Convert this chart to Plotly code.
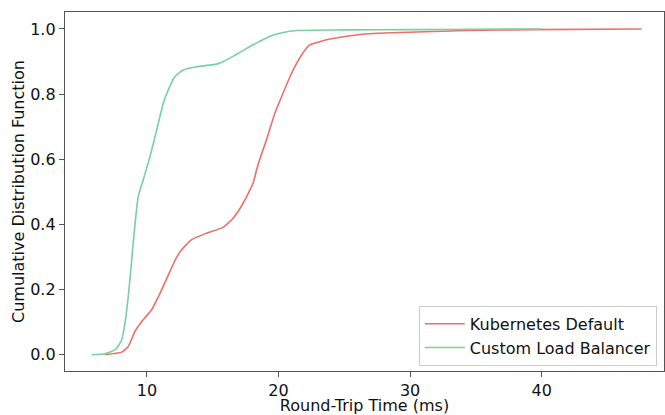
import plotly.graph_objects as go

# Kubernetes Default CDF
k8s_rtt = [6.8, 8.08, 8.58, 9.09, 9.6, 10.36, 11.0, 11.75, 12.2, 12.63, 13.39, 14.53,
           15.79, 16.2, 16.55, 17.31, 18.07, 18.33, 18.7, 19.09, 19.72, 20.23, 20.99,
           21.75, 22.38, 23.14, 23.9, 26.2, 29.2, 34.3, 39.3, 47.6]
k8s_cdf = [0.0, 0.008, 0.025, 0.072, 0.102, 0.138, 0.189, 0.256, 0.295, 0.322, 0.353, 0.373,
           0.391, 0.405, 0.419, 0.465, 0.527, 0.567, 0.615, 0.66, 0.741, 0.792, 0.864,
           0.92, 0.951, 0.961, 0.969, 0.983, 0.989, 0.995, 0.998, 1.0]

# Custom Load Balancer CDF
clb_rtt = [5.8, 6.8, 7.3, 7.7, 8.08, 8.33, 8.58, 8.84, 9.09, 9.34, 9.72, 10.23, 10.74,
           11.24, 11.62, 12.13, 12.76, 13.77, 15.29, 15.8, 16.5, 17.06, 18.0,
           18.58, 19.3, 20.1, 21.37, 25.0, 30.0, 35.0, 40.0]
clb_cdf = [0.0, 0.003, 0.01, 0.02, 0.046, 0.097, 0.179, 0.29, 0.40, 0.486, 0.537, 0.608, 0.69,
           0.772, 0.813, 0.854, 0.874, 0.884, 0.892, 0.90, 0.915, 0.928, 0.95,
           0.962, 0.977, 0.987, 0.995, 0.997, 0.998, 0.999, 1.0]

x_ticks = [10, 20, 30, 40]
y_ticks = [0.0, 0.2, 0.4, 0.6, 0.8, 1.0]

FONT = "DejaVu Sans"
FS = 16

fig = go.Figure()
fig.add_trace(go.Scatter(x=k8s_rtt, y=k8s_cdf, mode="lines", name="Kubernetes Default",
                         line=dict(color="#ef6e69", width=1.6, shape="spline", smoothing=0.5)))
fig.add_trace(go.Scatter(x=clb_rtt, y=clb_cdf, mode="lines", name="Custom Load Balancer",
                         line=dict(color="#7acfa1", width=1.6, shape="spline", smoothing=0.5)))

axis_common = dict(showline=True, linecolor="#555555", linewidth=1.3, mirror=True,
                   showgrid=False, zeroline=False, ticks="outside", ticklen=5,
                   tickwidth=1, tickcolor="#555555", automargin=False,
                   tickfont=dict(family=FONT, size=FS, color="#111111"))

fig.update_layout(
    width=665, height=415,
    margin=dict(l=65, r=1, t=12, b=44),
    plot_bgcolor="white", paper_bgcolor="white",
    font=dict(family=FONT, size=FS, color="#111111"),
    xaxis=dict(range=[3.77, 49.3], tickvals=x_ticks, ticktext=[str(v) for v in x_ticks],
               title=dict(text="Round-Trip Time (ms)", font=dict(family=FONT, size=FS), standoff=3),
               **axis_common),
    yaxis=dict(range=[-0.05, 1.052], tickvals=y_ticks, ticktext=[f"{v:.1f}" for v in y_ticks],
               title=dict(text="Cumulative Distribution Function", font=dict(family=FONT, size=FS), standoff=1),
               **axis_common),
    legend=dict(x=0.988, y=0.0143, xanchor="right", yanchor="bottom",
                bgcolor="rgba(255,255,255,0.8)", bordercolor="#cccccc", borderwidth=1,
                font=dict(family=FONT, size=FS, color="#111111"),
                tracegroupgap=0, itemwidth=40),
    showlegend=True,
)

fig.write_html("out.html", config={"displayModeBar": False})

# remove the default 8px body margin so the figure fills the window exactly
with open("out.html", "r", encoding="utf-8") as f:
    html = f.read()
html = html.replace("<head>", "<head><style>html,body{margin:0;padding:0;overflow:hidden;}</style>", 1)
with open("out.html", "w", encoding="utf-8") as f:
    f.write(html)
